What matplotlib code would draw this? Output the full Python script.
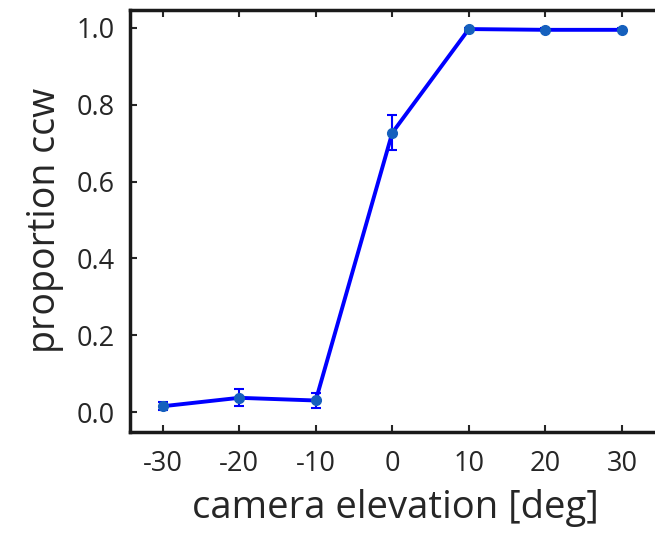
import numpy as np
import matplotlib
matplotlib.use("Agg")
import matplotlib.pyplot as plt

# Data.
elevation = [-30, -20, -10, 0, 10, 20, 30]
prop_ccw = [0.015, 0.037, 0.030, 0.727, 0.997, 0.995, 0.995]
err = [0.010, 0.022, 0.020, 0.045, 0.004, 0.004, 0.004]

xticks = [-30, -20, -10, 0, 10, 20, 30]
yticks = [0.0, 0.2, 0.4, 0.6, 0.8, 1.0]

plt.rcParams["font.family"] = ["Open Sans", "DejaVu Sans"]

fig = plt.figure(figsize=(6.55, 5.33), dpi=100)
ax = fig.add_axes([0.198, 0.1895, 0.81, 0.792])

ax.errorbar(elevation, prop_ccw, yerr=err, color="#0000ff", lw=2.8,
            ecolor="#0000ff", elinewidth=1.5, capsize=3.5, capthick=1.5,
            marker="o", ms=7, mfc="#1560bd", mec="#1560bd", zorder=3)

ax.set_xlim(-34.3, 35.0)
ax.set_ylim(-0.052, 1.047)
ax.set_xticks(xticks)
ax.set_xticklabels([str(v) for v in xticks])
ax.set_yticks(yticks)
ax.set_yticklabels([f"{v:.1f}" for v in yticks])

ax.set_xlabel("camera elevation [deg]", fontsize=27.5, color="#262626",
              labelpad=8)
ax.set_ylabel("proportion ccw", fontsize=27, color="#262626", labelpad=9)

ax.tick_params(axis="both", direction="in", labelsize=19.5,
               colors="#262626", width=1.5, length=5,
               top=True, right=False)
ax.tick_params(axis="y", pad=11)
ax.tick_params(axis="x", pad=13)
ax.spines["right"].set_visible(False)
for side in ["left", "bottom", "top"]:
    ax.spines[side].set_linewidth(2.5)
    ax.spines[side].set_color("#1a1a1a")

fig.savefig("out.png", dpi=100)
